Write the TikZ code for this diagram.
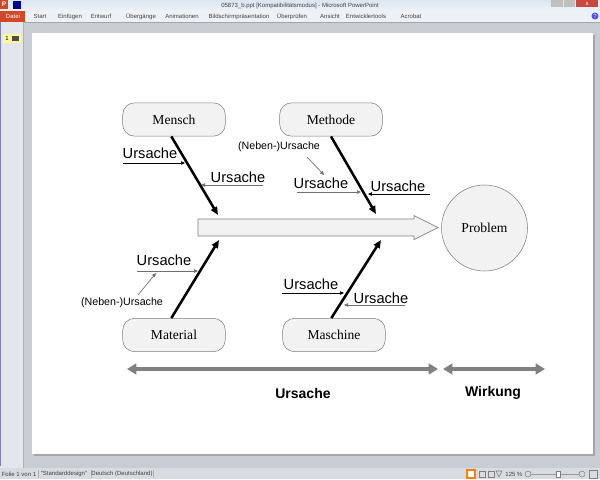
\documentclass[tikz,border=0pt]{standalone}
\usepackage{fontspec}
\setmainfont{Liberation Serif}
\setsansfont{Liberation Sans}
\usetikzlibrary{arrows.meta}

\definecolor{boxfill}{HTML}{F2F2F2}
\definecolor{boxline}{HTML}{7F7F7F}
\definecolor{twiggray}{HTML}{6F6F6F}
\definecolor{spangray}{HTML}{808080}
\definecolor{winbg}{HTML}{C8CDD3}
\definecolor{panebg}{HTML}{E3E7EC}
\definecolor{tabbg}{HTML}{EEF2F7}
\definecolor{titlebg}{HTML}{DCE6F2}
\definecolor{statbg}{HTML}{D8DCE1}
\definecolor{dateired}{HTML}{D24726}
\definecolor{closered}{HTML}{C9483E}

\tikzset{
  cat/.style={draw=boxline, fill=boxfill, rounded corners=9pt, minimum width=77pt,
    minimum height=25pt, inner sep=0pt, font=\fontsize{10.2}{12}\selectfont},
  effect/.style={draw=boxline, fill=boxfill, circle, minimum size=64.5pt, inner sep=0pt,
    font=\fontsize{10.2}{12}\selectfont},
  bone/.style={line width=1.9pt, -{Triangle[length=6pt,width=5pt]}},
  cause/.style={font=\sffamily\fontsize{11}{13}\selectfont, inner sep=0pt},
  subcause/.style={font=\sffamily\fontsize{8}{10}\selectfont, inner sep=0pt},
  twig/.style={line width=0.5pt, -{Triangle[length=3pt,width=2.6pt]}},
  span/.style={spangray, line width=3pt, {Triangle[length=7pt,width=8pt]}-{Triangle[length=7pt,width=8pt]}},
  side/.style={font=\sffamily\bfseries\fontsize{10.5}{12}\selectfont, inner sep=0pt},
  ui/.style={font=\sffamily\fontsize{4.5}{5}\selectfont, inner sep=0pt, text=black!75},
}

\begin{document}
\begin{tikzpicture}[x=0.75pt, y=-0.75pt]
  \useasboundingbox (0,0) rectangle (600,479);

  % window frame
  \shade[top color=titlebg, bottom color=tabbg] (0,0) rectangle (600,11);
  \fill[tabbg] (0,11) rectangle (600,22);
  \draw[black!35] (0,22) -- (600,22);
  \fill[panebg] (0,22) rectangle (23,468);
  \fill[blue!45!black!50] (0,22) rectangle (1.2,466);
  \fill[winbg] (24,23) rectangle (600,468);
  \draw[black!30] (23.5,23) -- (23.5,468);
  \fill[black!35] (34,35) rectangle (595,456);
  \fill[white] (32,33) rectangle (593,454);
  \fill[statbg] (0,468) rectangle (600,479);

  % title bar
  \fill[dateired] (0,0) rectangle (8,9);
  \node[ui, text=white, font=\sffamily\bfseries\fontsize{5}{5}\selectfont] (pp) at (4,4.5) {P};
  \fill[blue!60!black] (13,1) rectangle (21,9);
  \node[ui] (title) at (300,5.5) {05873\_b.ppt [Kompatibilitätsmodus] - Microsoft PowerPoint};
  \fill[black!25] (551,0) rectangle (563,7);
  \fill[black!25] (564,0) rectangle (575,7);
  \fill[closered] (576,0) rectangle (598,7);
  \node[ui, text=white] (close) at (587,3.5) {x};

  % ribbon tabs
  \fill[dateired] (0,11) rectangle (25,22);
  \node[ui, text=white] (tdatei) at (13,16.5) {Datei};
  \node[ui] (t1) at (40,16.5) {Start};
  \node[ui] (t2) at (70,16.5) {Einfügen};
  \node[ui] (t3) at (101,16.5) {Entwurf};
  \node[ui] (t4) at (141,16.5) {Übergänge};
  \node[ui] (t5) at (182,16.5) {Animationen};
  \node[ui] (t6) at (239,16.5) {Bildschirmpräsentation};
  \node[ui] (t7) at (292,16.5) {Überprüfen};
  \node[ui] (t8) at (330,16.5) {Ansicht};
  \node[ui] (t9) at (366,16.5) {Entwicklertools};
  \node[ui] (t10) at (411,16.5) {Acrobat};
  \fill[blue!70] (595,16) circle (3.5);
  \node[ui, text=white] (help) at (595,16) {?};

  % slide thumbnail
  \fill[yellow!40] (3,34) rectangle (21,43);
  \node[ui, text=black] (thumb) at (7,38.5) {1};
  \fill[black!70] (12,36) rectangle (19,41);

  % status bar
  \node[ui] (s1) at (19,474) {Folie 1 von 1};
  \draw[black!30] (38,470) -- (38,478);
  \node[ui] (s2) at (64,474) {"Standarddesign"};
  \draw[black!30] (91,470) -- (91,478);
  \node[ui] (s3) at (122,474) {Deutsch (Deutschland)};
  \draw[black!30] (153,470) -- (153,478);
  \draw[orange, line width=0.8pt, fill=white] (467,470) rectangle (475,478);
  \draw[black!50] (479,471) rectangle (485,477);
  \draw[black!50] (488,471) rectangle (494,477);
  \draw[black!50] (496,471) -- (502,471) -- (499,477) -- cycle;
  \node[ui] (zoom) at (514,474) {125 \%};
  \draw[black!50] (528,474) circle (3);
  \draw[black!40] (531,474) -- (579,474);
  \fill[white, draw=black!50] (556,471) rectangle (560,477);
  \draw[black!50] (582,474) circle (3);
  \draw[black!50] (589,470) rectangle (597,478);

  % categories and effect
  \node[cat] (mensch) at (174,119.5) {Mensch};
  \node[cat] (methode) at (331,119.5) {Methode};
  \node[cat] (material) at (174,335) {Material};
  \node[cat] (maschine) at (334,335) {Maschine};
  \node[effect] (problem) at (484.5,228) {Problem};

  % spine
  \draw[boxline, fill=boxfill, line width=0.5pt] (198,219) -- (414,219) -- (414,215.5) -- (438,227.5)
    -- (414,239.5) -- (414,236) -- (198,236) -- cycle;

  % bones
  \coordinate (b1) at (218,215);
  \coordinate (b2) at (376,214);
  \coordinate (b3) at (219,240);
  \coordinate (b4) at (381,240);
  \draw[bone] ([xshift=-2pt]mensch.south) -- (b1);
  \draw[bone] (methode.south) -- (b2);
  \draw[bone] ([xshift=-2pt]material.north) -- (b3);
  \draw[bone] ([xshift=-2pt]maschine.north) -- (b4);

  % causes
  \node[cause] (u1) at (150,153) {Ursache};
  \node[cause] (u2) at (238,177) {Ursache};
  \node[subcause] (n1) at (279,147) {(Neben-)Ursache};
  \node[cause] (u3) at (321,183) {Ursache};
  \node[cause] (u4) at (398,186) {Ursache};
  \node[cause] (u5) at (164,260) {Ursache};
  \node[subcause] (n2) at (122,303) {(Neben-)Ursache};
  \node[cause] (u6) at (311,284) {Ursache};
  \node[cause] (u7) at (381,298) {Ursache};

  \coordinate (c1a) at (123,163); \coordinate (c1b) at (185,163);
  \coordinate (c2a) at (263,185); \coordinate (c2b) at (201,185);
  \coordinate (c3a) at (297,192); \coordinate (c3b) at (361,192);
  \coordinate (c4a) at (430,194); \coordinate (c4b) at (368,194);
  \coordinate (c5a) at (137,271); \coordinate (c5b) at (198,271);
  \coordinate (c6a) at (282,293); \coordinate (c6b) at (344,293);
  \coordinate (c7a) at (405,305); \coordinate (c7b) at (344,305);
  \coordinate (n1a) at (307,157); \coordinate (n1b) at (324,175);
  \coordinate (n2a) at (138,295); \coordinate (n2b) at (156,273);

  \draw[twig] (c1a) -- (c1b);
  \draw[twig, twiggray] (c2a) -- (c2b);
  \draw[twig, twiggray] (c3a) -- (c3b);
  \draw[twig] (c4a) -- (c4b);
  \draw[twig, twiggray] (c5a) -- (c5b);
  \draw[twig] (c6a) -- (c6b);
  \draw[twig, twiggray] (c7a) -- (c7b);
  \draw[twig, twiggray] (n1a) -- (n1b);
  \draw[twig, twiggray] (n2a) -- (n2b);

  % cause / effect span
  \coordinate (sa) at (127,369); \coordinate (sb) at (438,369);
  \coordinate (sc) at (443,369); \coordinate (sd) at (545,369);
  \draw[span] (sa) -- (sb);
  \draw[span] (sc) -- (sd);
  \node[side] (lcause) at (303,393) {Ursache};
  \node[side] (leffect) at (493,393) {Wirkung};
\end{tikzpicture}
\end{document}
